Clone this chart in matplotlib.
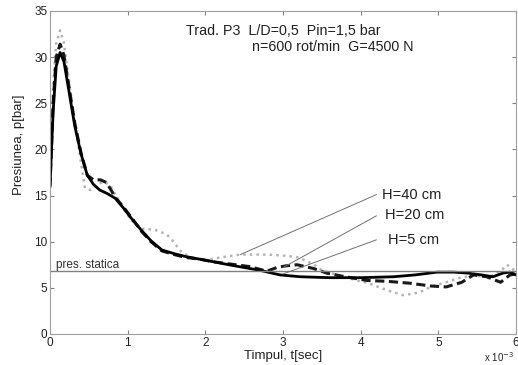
import numpy as np
import matplotlib
matplotlib.use("Agg")
import matplotlib.pyplot as plt

plt.rcParams['font.family'] = ['Liberation Sans', 'DejaVu Sans']

# time in ms (axis shows x 10^-3 sec), pressure in bar
t_h5 = [0, 0.04, 0.08, 0.13, 0.18, 0.25, 0.32, 0.4, 0.48, 0.56, 0.64, 0.74, 0.84, 0.95,
        1.05, 1.18, 1.3, 1.44, 1.6, 1.74, 1.93, 2.12, 2.3, 2.5, 2.7, 2.96, 3.22, 3.6,
        4.0, 4.42, 4.7, 4.98, 5.2, 5.37, 5.55, 5.7, 5.83, 5.92, 6.0]
p_h5 = [16, 24, 29, 30.5, 29.5, 26, 22.5, 19.5, 17.2, 16.2, 15.6, 15.2, 14.7, 13.6,
        12.5, 11.2, 10.1, 9.1, 8.7, 8.4, 8.1, 7.8, 7.5, 7.2, 6.9, 6.4, 6.2, 6.1,
        6.1, 6.2, 6.4, 6.7, 6.7, 6.6, 6.4, 6.2, 6.6, 6.7, 6.4]

t_h20 = [0, 0.04, 0.08, 0.13, 0.18, 0.25, 0.32, 0.4, 0.48, 0.56, 0.65, 0.73, 0.84, 0.95,
         1.05, 1.18, 1.3, 1.44, 1.6, 1.74, 1.93, 2.12, 2.3, 2.57, 2.79, 2.92, 3.05, 3.18,
         3.39, 3.56, 3.8, 4.08, 4.35, 4.63, 4.9, 5.1, 5.3, 5.45, 5.62, 5.8, 5.92, 6.0]
p_h20 = [16, 25, 30, 31.4, 30.2, 26.5, 22.8, 19.6, 17.2, 16.7, 16.7, 16.4, 14.8, 13.7,
         12.6, 11.1, 10.0, 9.0, 8.6, 8.3, 8.1, 7.8, 7.6, 7.3, 6.8, 7.2, 7.4, 7.5,
         7.1, 6.6, 6.2, 5.8, 5.7, 5.5, 5.2, 5.1, 5.6, 6.4, 6.2, 5.6, 6.4, 6.5]

t_h40 = [0, 0.04, 0.08, 0.13, 0.18, 0.25, 0.32, 0.4, 0.45, 0.52, 0.6, 0.7, 0.78, 0.86,
         0.95, 1.05, 1.18, 1.35, 1.5, 1.57, 1.7, 1.85, 2.0, 2.2, 2.45, 2.8, 3.0, 3.2,
         3.4, 3.5, 3.77, 4.1, 4.35, 4.55, 4.75, 4.9, 5.1, 5.28, 5.45, 5.66, 5.8, 5.88,
         5.95, 6.0]
p_h40 = [17, 27, 31.5, 32.9, 31.5, 27, 23, 18.5, 15.8, 15.6, 16.2, 16.5, 16.0, 14.8,
         13.5, 12.3, 11.4, 11.3, 10.8, 10.2, 8.8, 8.2, 8.0, 8.3, 8.6, 8.6, 8.5, 8.3,
         7.5, 6.9, 6.2, 5.5, 4.7, 4.2, 4.5, 5.1, 5.6, 6.1, 6.3, 6.2, 6.8, 7.5,
         7.1, 6.6]

p_static = 6.8

labels = ["H=40 cm", "H=20 cm", "H=5 cm"]
# leader line: start on curve, end near label
lead_start = [(2.45, 8.6), (3.0, 7.2), (3.0, 6.5)]
lead_end = [(4.2, 15.1), (4.2, 12.8), (4.2, 10.2)]
label_pos = [(4.27, 15.1), (4.31, 12.9), (4.35, 10.2)]

fig = plt.figure(figsize=(5.18, 3.65), dpi=100)
ax = fig.add_axes([0.0965, 0.085, 0.9, 0.885])

ax.plot(t_h40, p_h40, color='#b4b4b4', linestyle=':', linewidth=1.8)
ax.plot(t_h20, p_h20, color='#1a1a1a', linestyle='--', linewidth=2.2, dashes=(3, 1.5))
ax.plot(t_h5, p_h5, color='black', linestyle='-', linewidth=2.0)

ax.axhline(p_static, color='#808080', linewidth=1.0)
ax.text(0.08, 7.2, "pres. statica", fontsize=8.5, color='#303030')

for (x0, y0), (x1, y1), (lx, ly), lab in zip(lead_start, lead_end, label_pos, labels):
    ax.plot([x0, x1], [y0, y1], color='#707070', linewidth=0.7)
    ax.text(lx, ly, lab, fontsize=10.5, color='#202020', va='center')

ax.text(1.75, 32.8, "Trad. P3  L/D=0,5  Pin=1,5 bar", fontsize=10.3, color='#202020', va='center')
ax.text(2.6, 31.1, "n=600 rot/min  G=4500 N", fontsize=10.3, color='#202020', va='center')

ax.set_xlim(0, 6)
ax.set_ylim(0, 35)
ax.set_xticks(range(0, 7))
ax.set_yticks(range(0, 36, 5))
ax.tick_params(direction='in', top=True, right=True, labelsize=8.5, length=3,
               color='#808080', labelcolor='#202020', pad=2)
for s in ax.spines.values():
    s.set_color('#a0a0a0')

ax.set_xlabel("Timpul, t[sec]", fontsize=9.5, color='#202020', labelpad=1)
ax.set_ylabel("Presiunea, p[bar]", fontsize=9.5, color='#202020')
ax.yaxis.set_label_coords(-0.054, 0.585)
fig.text(0.935, 0.008, r"x 10$^{-3}$", fontsize=7, color='#202020')

fig.savefig("out.png", dpi=100)
